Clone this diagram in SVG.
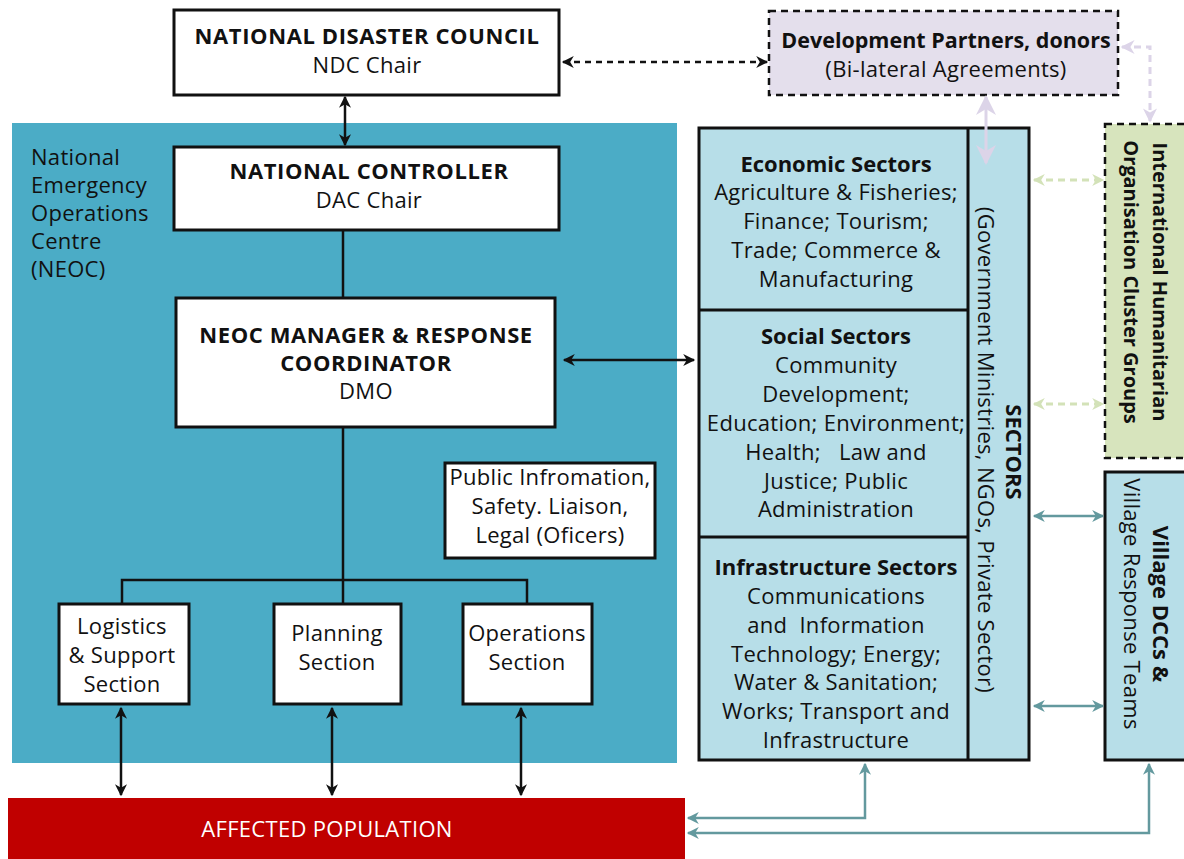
<svg xmlns="http://www.w3.org/2000/svg" width="1184" height="859" viewBox="0 0 1184 859">
<style>
text{font-family:"Open Sans",Lato,"Liberation Sans",sans-serif;font-size:22px;letter-spacing:0.3px;fill:#111;}
.b{font-weight:bold;letter-spacing:0;}
.caps{letter-spacing:0.6px;}
.v{font-size:20px;}
.c{text-anchor:middle;}
.box{fill:#fff;stroke:#111;stroke-width:3;}
.sec{fill:#B7DEE8;stroke:#111;stroke-width:3;}
.blk{stroke:#111;stroke-width:2.5;fill:none;}
.teal{stroke:#63999E;stroke-width:2.5;fill:none;}
.lav{stroke:#DCD4E8;stroke-width:3;fill:none;}
.grn{stroke:#D3E2B8;stroke-width:3;fill:none;stroke-dasharray:7 5;}
</style>
<defs>
<marker id="akb" viewBox="0 0 10 10" refX="9" refY="5" markerWidth="15" markerHeight="12" orient="auto-start-reverse" markerUnits="userSpaceOnUse"><path d="M0,0 L10,5 L0,10 L3,5 z" fill="#111"/></marker>
<marker id="at" viewBox="0 0 10 10" refX="9" refY="5" markerWidth="16" markerHeight="12" orient="auto-start-reverse" markerUnits="userSpaceOnUse"><path d="M0,0 L10,5 L0,10 L3,5 z" fill="#63999E"/></marker>
<marker id="al" viewBox="0 0 10 10" refX="9" refY="5" markerWidth="18" markerHeight="14" orient="auto-start-reverse" markerUnits="userSpaceOnUse"><path d="M0,0 L10,5 L0,10 L3,5 z" fill="#DCD4E8"/></marker>
<marker id="alw" viewBox="0 0 10 10" refX="9" refY="5" markerWidth="24" markerHeight="20" orient="auto-start-reverse" markerUnits="userSpaceOnUse"><path d="M0,0 L10,5 L0,10 L3,5 z" fill="#DCD4E8"/></marker>
<marker id="ag" viewBox="0 0 10 10" refX="9" refY="5" markerWidth="16" markerHeight="12" orient="auto-start-reverse" markerUnits="userSpaceOnUse"><path d="M0,0 L10,5 L0,10 L3,5 z" fill="#D3E2B8"/></marker>
</defs>

<g id="neoc-area">
<rect x="12" y="123" width="665" height="640" fill="#4BACC6"/>
<text x="31" y="165">National</text>
<text x="31" y="193">Emergency</text>
<text x="31" y="221">Operations</text>
<text x="31" y="249">Centre</text>
<text x="31" y="277">(NEOC)</text>
</g>

<g id="ndc">
<rect x="174" y="10" width="385" height="85" class="box"/>
<text x="367" y="44" class="c b caps">NATIONAL DISASTER COUNCIL</text>
<text x="367" y="73" class="c">NDC Chair</text>
</g>

<g id="controller">
<rect x="174" y="147" width="385" height="83" class="box"/>
<text x="369" y="179" class="c b caps">NATIONAL CONTROLLER</text>
<text x="369" y="208" class="c">DAC Chair</text>
</g>

<g id="manager">
<rect x="176" y="298" width="379" height="129" class="box"/>
<text x="366" y="343" class="c b caps">NEOC MANAGER &amp; RESPONSE</text>
<text x="366" y="371" class="c b caps">COORDINATOR</text>
<text x="366" y="399" class="c">DMO</text>
</g>

<g id="public-info">
<rect x="445" y="463" width="210" height="95" class="box"/>
<text x="550" y="485" class="c">Public Infromation,</text>
<text x="550" y="514" class="c">Safety. Liaison,</text>
<text x="550" y="543" class="c">Legal (Oficers)</text>
</g>

<g id="logistics">
<rect x="59" y="604" width="130" height="100" class="box"/>
<text x="122" y="634" class="c">Logistics</text>
<text x="122" y="663" class="c">&amp; Support</text>
<text x="122" y="692" class="c">Section</text>
</g>

<g id="planning">
<rect x="274" y="604" width="127" height="100" class="box"/>
<text x="337" y="641" class="c">Planning</text>
<text x="337" y="670" class="c">Section</text>
</g>

<g id="operations">
<rect x="463" y="604" width="129" height="100" class="box"/>
<text x="527" y="641" class="c">Operations</text>
<text x="527" y="670" class="c">Section</text>
</g>

<g id="affected">
<rect x="8" y="798" width="677" height="61" fill="#C00000"/>
<text x="327" y="837" class="c" style="fill:#fff">AFFECTED POPULATION</text>
</g>

<g id="dev-partners">
<rect x="769" y="11" width="349" height="84" fill="#E4DFEC" stroke="#111" stroke-width="2.5" stroke-dasharray="7 5"/>
<text x="946" y="48" class="c b" style="font-size:21.5px">Development Partners, donors</text>
<text x="946" y="77" class="c">(Bi-lateral Agreements)</text>
</g>

<g id="sectors">
<rect x="699" y="128" width="330" height="632" class="sec"/>
<line x1="968" y1="128" x2="968" y2="760" stroke="#111" stroke-width="3"/>
<line x1="699" y1="310" x2="968" y2="310" stroke="#111" stroke-width="3"/>
<line x1="699" y1="537" x2="968" y2="537" stroke="#111" stroke-width="3"/>
<text x="836" y="172" class="c b">Economic Sectors</text>
<text x="836" y="200" class="c">Agriculture &amp; Fisheries;</text>
<text x="836" y="229" class="c">Finance; Tourism;</text>
<text x="836" y="258" class="c">Trade; Commerce &amp;</text>
<text x="836" y="287" class="c">Manufacturing</text>
<text x="836" y="344" class="c b">Social Sectors</text>
<text x="836" y="373" class="c">Community</text>
<text x="836" y="402" class="c">Development;</text>
<text x="836" y="431" class="c">Education; Environment;</text>
<text x="836" y="460" class="c" xml:space="preserve">Health;   Law and</text>
<text x="836" y="489" class="c">Justice; Public</text>
<text x="836" y="517" class="c">Administration</text>
<text x="836" y="575" class="c b">Infrastructure Sectors</text>
<text x="836" y="604" class="c">Communications</text>
<text x="836" y="633" class="c" xml:space="preserve">and  Information</text>
<text x="836" y="662" class="c">Technology; Energy;</text>
<text x="836" y="690" class="c">Water &amp; Sanitation;</text>
<text x="836" y="719" class="c">Works; Transport and</text>
<text x="836" y="748" class="c">Infrastructure</text>
<text transform="translate(1006,452) rotate(90)" class="c b">SECTORS</text>
<text transform="translate(978,450) rotate(90)" class="c">(Government Ministries, NGOs, Private Sector)</text>
</g>

<g id="intl-humanitarian">
<rect x="1105" y="124" width="82" height="334" fill="#D7E4BD" stroke="#111" stroke-width="2.5" stroke-dasharray="7 5"/>
<text transform="translate(1153,282) rotate(90)" class="c b v">International Humanitarian</text>
<text transform="translate(1124,282) rotate(90)" class="c b v">Organisation Cluster Groups</text>
</g>

<g id="village">
<rect x="1105" y="472" width="82" height="288" class="sec" stroke-width="2.5"/>
<text transform="translate(1153,604) rotate(90)" class="c b">Village DCCs &amp;</text>
<text transform="translate(1124,604) rotate(90)" class="c">Village Response Teams</text>
</g>

<g id="connectors">
<line x1="345" y1="97" x2="345" y2="145" class="blk" marker-start="url(#akb)" marker-end="url(#akb)"/>
<line x1="563" y1="62" x2="767" y2="62" class="blk" stroke-dasharray="6 5" marker-start="url(#akb)" marker-end="url(#akb)"/>
<line x1="343" y1="230" x2="343" y2="298" class="blk"/>
<line x1="564" y1="360" x2="694" y2="360" class="blk" marker-start="url(#akb)" marker-end="url(#akb)"/>
<line x1="343" y1="427" x2="343" y2="604" class="blk"/>
<polyline points="122,604 122,580 527,580 527,604" class="blk"/>
<line x1="121" y1="708" x2="121" y2="795" class="blk" marker-start="url(#akb)" marker-end="url(#akb)"/>
<line x1="332" y1="708" x2="332" y2="795" class="blk" marker-start="url(#akb)" marker-end="url(#akb)"/>
<line x1="521" y1="708" x2="521" y2="795" class="blk" marker-start="url(#akb)" marker-end="url(#akb)"/>
<line x1="986" y1="97" x2="986" y2="163" class="lav" stroke-width="5" marker-start="url(#alw)" marker-end="url(#alw)"/>
<polyline points="1122,47 1150,47 1150,121" class="lav" stroke-dasharray="7 5" marker-start="url(#al)" marker-end="url(#al)"/>
<line x1="1034" y1="180" x2="1103" y2="180" class="grn" marker-start="url(#ag)" marker-end="url(#ag)"/>
<line x1="1034" y1="404" x2="1103" y2="404" class="grn" marker-start="url(#ag)" marker-end="url(#ag)"/>
<line x1="1034" y1="516" x2="1103" y2="516" class="teal" marker-start="url(#at)" marker-end="url(#at)"/>
<line x1="1034" y1="706" x2="1103" y2="706" class="teal" marker-start="url(#at)" marker-end="url(#at)"/>
<polyline points="865,764 865,818 688,818" class="teal" marker-start="url(#at)" marker-end="url(#at)"/>
<polyline points="1149,764 1149,833 688,833" class="teal" marker-start="url(#at)" marker-end="url(#at)"/>
</g>
</svg>
